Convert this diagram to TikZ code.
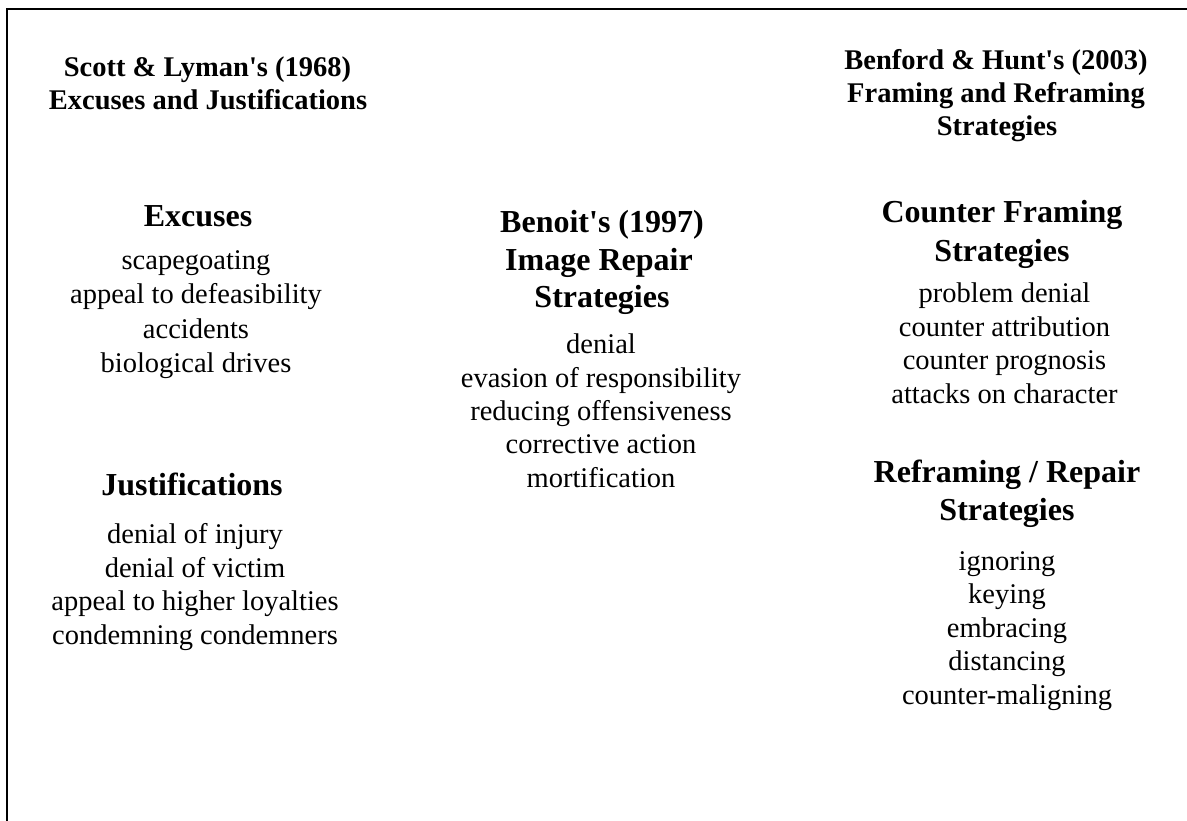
\documentclass[tikz,border=0pt]{standalone}
\usepackage{fontspec}
\setmainfont{Liberation Serif}[Ligatures=TeXOff]
\begin{document}
\begin{tikzpicture}[x=1pt,y=1pt,
  every node/.style={inner sep=0pt, outer sep=0pt, anchor=base},
  hdr/.style={font=\fontsize{28.5}{33}\selectfont\bfseries},
  sect/.style={font=\fontsize{32}{37}\selectfont\bfseries},
  item/.style={font=\fontsize{28.5}{33.5}\selectfont},
  frameline/.style={draw=black, line width=2.3pt}]
\useasboundingbox (0,0) rectangle (1187,-821);
\coordinate (tl) at (7,-9);
\coordinate (tr) at (1187,-9);
\coordinate (bl) at (7,-821);
\draw[frameline] (tr) -- (tl) -- (bl);
% left column
\node[hdr] (lh1) at (207.5,-77) {Scott \& Lyman's (1968)};
\node[hdr] (lh2) at (208,-110) {Excuses and Justifications};
\node[sect] (exc) at (198,-227) {Excuses};
\node[item] (e1) at (196,-270) {scapegoating};
\node[item] (e2) at (196,-304) {appeal to defeasibility};
\node[item] (e3) at (196,-338) {accidents};
\node[item] (e4) at (196,-372) {biological drives};
\node[sect] (jus) at (192,-495) {Justifications};
\node[item] (j1) at (195,-543) {denial of injury};
\node[item] (j2) at (195,-577) {denial of victim};
\node[item] (j3) at (195,-610) {appeal to higher loyalties};
\node[item] (j4) at (195,-644) {condemning condemners};
% middle column
\node[sect] (mh1) at (602,-233) {Benoit's (1997)};
\node[sect] (mh2) at (599,-271) {Image Repair};
\node[sect] (mh3) at (602,-308) {Strategies};
\node[item] (m1) at (601,-353) {denial};
\node[item] (m2) at (601,-387) {evasion of responsibility};
\node[item] (m3) at (601,-420) {reducing offensiveness};
\node[item] (m4) at (601,-453) {corrective action};
\node[item] (m5) at (601,-487) {mortification};
% right column
\node[hdr] (rh1) at (996,-70) {Benford \& Hunt's (2003)};
\node[hdr] (rh2) at (996,-103) {Framing and Reframing};
\node[hdr] (rh3) at (997,-136) {Strategies};
\node[sect] (cf1) at (1002,-223) {Counter Framing};
\node[sect] (cf2) at (1002,-262) {Strategies};
\node[item] (c1) at (1004.5,-303) {problem denial};
\node[item] (c2) at (1004.5,-337) {counter attribution};
\node[item] (c3) at (1004.5,-370) {counter prognosis};
\node[item] (c4) at (1004.5,-403) {attacks on character};
\node[sect] (rf1) at (1007,-482) {Reframing / Repair};
\node[sect] (rf2) at (1007,-520) {Strategies};
\node[item] (r1) at (1007,-570) {ignoring};
\node[item] (r2) at (1007,-603) {keying};
\node[item] (r3) at (1007,-637) {embracing};
\node[item] (r4) at (1007,-670) {distancing};
\node[item] (r5) at (1007,-704) {counter-maligning};
\end{tikzpicture}
\end{document}
